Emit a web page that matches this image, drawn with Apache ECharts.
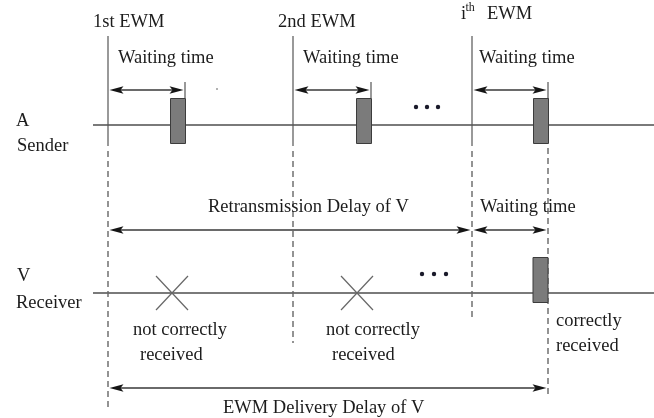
<!DOCTYPE html>
<html><head><meta charset="utf-8">
<script src="https://cdn.jsdelivr.net/npm/echarts@6/dist/echarts.min.js"></script>
<style>html,body{margin:0;padding:0;background:#fff}#c{width:654px;height:418px}</style>
</head><body><div id="c"></div>
<script>
// ---- diagram data (time along x, rows along y, in diagram units) ----
const ewmTimes   = [108, 293, 472];          // EWM (re)transmission starts
const sendTimes  = [185, 371, 548];          // end of each waiting time (send instant)
const ewmLabels  = ['1st EWM', '2nd EWM'];   // third label drawn as i^th EWM
const lostTimes  = [172, 357];               // receptions not correctly received
const okTime     = 548;                      // correctly received instant
const dashEnds   = [408, 343, 318, 397];     // lower end of each dashed guide (ewm1, ewm2, ewmi, delivery)

// ---- layout rows ----
const Y = { ewmTop: 36, solidEnd: 146, dashStart: 151, tickTop: 82, wait: 90,
            sender: 125, barTop: 98, barBot: 143, mid: 230, receiver: 293,
            rBarTop: 257, rBarBot: 302, delivery: 388 };
const BAR_W = 15;

const FONT = 'Liberation Serif';
const FS = 18.5;
const TXT = '#1c1c1c';

// texts: [label, left x, center y, fontSize]
const texts = [
  [ewmLabels[0], 93, 22.5], [ewmLabels[1], 278, 22.5],
  ['i', 461, 14], ['th', 465.5, 8, 12], ['EWM', 487, 14],
  ['Waiting time', 118, 58.5], ['Waiting time', 303, 58.5], ['Waiting time', 479, 58.5],
  ['A', 16, 121], ['Sender', 17, 146],
  ['Retransmission Delay of V', 208, 207.5], ['Waiting time', 480, 207.5],
  ['V', 17, 276.5], ['Receiver', 16, 303],
  ['not correctly', 133, 330.5], ['received', 140, 355],
  ['not correctly', 326, 330.5], ['received', 332, 355],
  ['correctly', 556, 321.5], ['received', 556, 346],
  ['EWM Delivery Delay of V', 223, 408]
];

// ---- build series data ----
const solidLines = [];   // [x1,y1,x2,y2]
const dashLines = [];
ewmTimes.forEach((t, i) => {
  solidLines.push([t, Y.ewmTop, t, Y.solidEnd]);
  dashLines.push([t, Y.dashStart, t, dashEnds[i]]);
});
sendTimes.forEach((t, i) => {
  solidLines.push([t, Y.tickTop, t, i === 2 ? Y.barBot : Y.barTop]);
});
dashLines.push([okTime, Y.barBot + 5, okTime, dashEnds[3]]);
const rowLines = [[93, Y.sender, 654, Y.sender], [93, Y.receiver, 654, Y.receiver]];

const bars = sendTimes.map(t => [t - BAR_W, t, Y.barTop, Y.barBot]);
bars.push([okTime - BAR_W - 0.5, okTime - 0.5, Y.rBarTop, Y.rBarBot]);

const arrows = ewmTimes.map((t, i) => [t, sendTimes[i], Y.wait]);
arrows.push([ewmTimes[0], ewmTimes[2], Y.mid]);
arrows.push([ewmTimes[2], sendTimes[2], Y.mid]);
arrows.push([ewmTimes[0], okTime, Y.delivery]);

const crosses = lostTimes.map(t => [t, Y.receiver]);
const dots = [[416, 107], [427, 107], [438, 107], [422, 274], [434, 274], [446, 274]];

function segRender(style) {
  return function (params, api) {
    const a = api.coord([api.value(0), api.value(1)]);
    const b = api.coord([api.value(2), api.value(3)]);
    return { type: 'line', shape: { x1: a[0], y1: a[1], x2: b[0], y2: b[1] }, style: style };
  };
}

const chart = echarts.init(document.getElementById('c'), null, { renderer: 'canvas' });
chart.setOption({
  animation: false,
  backgroundColor: '#fff',
  grid: { left: 0, right: 0, top: 0, bottom: 0 },
  xAxis: { type: 'value', min: 0, max: 654, show: false },
  yAxis: { type: 'value', min: 0, max: 418, inverse: true, show: false },
  series: [
    { type: 'custom', data: rowLines, renderItem: segRender({ stroke: '#7a7a7a', lineWidth: 2 }) },
    { type: 'custom', data: solidLines, renderItem: segRender({ stroke: '#555', lineWidth: 1.2 }) },
    { type: 'custom', data: dashLines, renderItem: segRender({ stroke: '#666', lineWidth: 1.4, lineDash: [6, 4] }) },
    { type: 'custom', data: bars, renderItem: function (params, api) {
        const a = api.coord([api.value(0), api.value(2)]);
        const b = api.coord([api.value(1), api.value(3)]);
        return { type: 'rect', shape: { x: a[0] + 0.5, y: a[1] + 0.5, width: b[0] - a[0], height: b[1] - a[1] },
                 style: { fill: '#7b7b7b', stroke: '#3c3c3c', lineWidth: 1 } };
      } },
    { type: 'custom', data: arrows, renderItem: function (params, api) {
        const p1 = api.coord([api.value(0), api.value(2)]);
        const p2 = api.coord([api.value(1), api.value(2)]);
        const L = 14, H = 3.8, g = 1.5, y = p1[1];
        const a = p1[0] + g, b = p2[0] - g;
        return { type: 'group', children: [
          { type: 'line', shape: { x1: a + 4, y1: y, x2: b - 4, y2: y }, style: { stroke: '#6a6a6a', lineWidth: 2 } },
          { type: 'polygon', shape: { points: [[a, y], [a + L, y - H], [a + L - 3, y], [a + L, y + H]] }, style: { fill: '#151515' } },
          { type: 'polygon', shape: { points: [[b, y], [b - L, y - H], [b - L + 3, y], [b - L, y + H]] }, style: { fill: '#151515' } }
        ] };
      } },
    { type: 'custom', data: crosses, renderItem: function (params, api) {
        const c = api.coord([api.value(0), api.value(1)]);
        const w = 16, h = 17;
        const st = { stroke: '#666', lineWidth: 1.2 };
        return { type: 'group', children: [
          { type: 'line', shape: { x1: c[0] - w, y1: c[1] - h, x2: c[0] + w, y2: c[1] + h }, style: st },
          { type: 'line', shape: { x1: c[0] + w, y1: c[1] - h, x2: c[0] - w, y2: c[1] + h }, style: st }
        ] };
      } },
    { type: 'custom', data: dots, renderItem: function (params, api) {
        const c = api.coord([api.value(0), api.value(1)]);
        return { type: 'circle', shape: { cx: c[0], cy: c[1], r: 2.2 }, style: { fill: '#1a1a2a' } };
      } },
    { type: 'custom', data: [[217, 89]], renderItem: function (params, api) {
        const c = api.coord([api.value(0), api.value(1)]);
        return { type: 'circle', shape: { cx: c[0], cy: c[1], r: 1 }, style: { fill: '#999' } };
      } },
    { type: 'custom', data: texts.map(t => [t[1], t[2]]), renderItem: function (params, api) {
        const c = api.coord([api.value(0), api.value(1)]);
        const t = texts[params.dataIndex];
        return { type: 'text', x: c[0], y: c[1],
                 style: { text: t[0], fill: TXT, font: (t[3] || FS) + 'px "' + FONT + '", serif',
                          align: 'left', verticalAlign: 'middle' } };
      } }
  ]
});
</script></body></html>
